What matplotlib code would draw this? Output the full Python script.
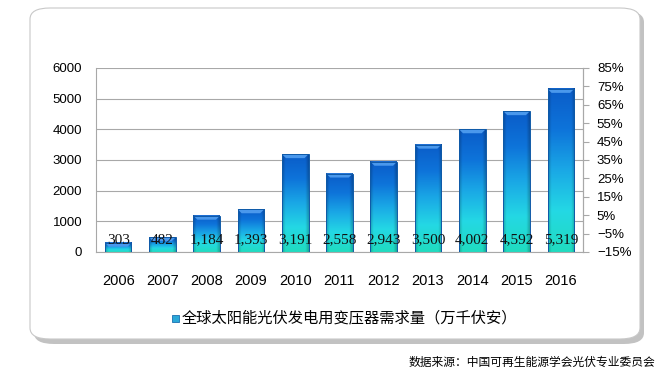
import numpy as np
import matplotlib.pyplot as plt
from matplotlib.colors import LinearSegmentedColormap
from matplotlib.patches import FancyBboxPatch, Rectangle, Polygon

years = ["2006", "2007", "2008", "2009", "2010", "2011",
         "2012", "2013", "2014", "2015", "2016"]
demand = [303, 482, 1184, 1393, 3191, 2558, 2943, 3500, 4002, 4592, 5319]
left_ticks = [0, 1000, 2000, 3000, 4000, 5000, 6000]
right_ticks = [-15, -5, 5, 15, 25, 35, 45, 55, 65, 75, 85]
legend_label = "全球太阳能光伏发电用变压器需求量（万千伏安）"
source_note = "数据来源：中国可再生能源学会光伏专业委员会"

plt.rcParams['font.family'] = ['Liberation Sans', 'Noto Sans CJK SC', 'DejaVu Sans']

fig = plt.figure(figsize=(6.69, 3.71), dpi=100)

# rounded panel with shadow, kept behind the axes
shadow = FancyBboxPatch((34 / 669, 1 - 344 / 371), 610 / 669, 333 / 371,
                        boxstyle="round,pad=0,rounding_size=0.03",
                        transform=fig.transFigure, facecolor="#9a9a9a",
                        edgecolor="none", alpha=0.6, zorder=-3)
panel = FancyBboxPatch((30 / 669, 1 - 339 / 371), 610 / 669, 331 / 371,
                       boxstyle="round,pad=0,rounding_size=0.03",
                       transform=fig.transFigure, facecolor="white",
                       edgecolor="#c8c8c8", lw=0.8, zorder=-2)
fig.patches.extend([shadow, panel])

ax = fig.add_axes([96 / 669, 1 - 252 / 371, 487 / 669, 184 / 371])
ax.set_facecolor("none")
cmap = LinearSegmentedColormap.from_list(
    "bar", ["#20dcc0", "#24d8e4", "#1aa8e6", "#0e74da", "#0a5cc8"])

# vertical gradient with darker sides for a bevelled look
vert = cmap(np.linspace(0, 1, 200))[:, :3]
u = np.linspace(-1, 1, 40)
side = 1 - 0.22 * np.clip((np.abs(u) - 0.75) / 0.25, 0, 1)
bar_img = vert[:, None, :] * side[None, :, None]

x = np.arange(len(years))
w = 0.6
cap_h = 130
cap_in = 0.09
for xi, v in zip(x, demand):
    ax.imshow(bar_img, origin="lower", aspect="auto",
              extent=[xi - w / 2, xi + w / 2, 0, v], zorder=2)
    ax.add_patch(Polygon([(xi - w / 2, v), (xi + w / 2, v),
                          (xi + w / 2 - cap_in, v - cap_h),
                          (xi - w / 2 + cap_in, v - cap_h)],
                         closed=True, facecolor="#4a98ec",
                         edgecolor="none", zorder=3))
    ax.add_patch(Rectangle((xi - w / 2, 0), w, v, fill=False,
                           edgecolor="#0f5aa8", lw=0.7, zorder=3))
    ax.text(xi, 390, f"{v:,}", ha="center", va="center", fontsize=11,
            family="Liberation Serif", color="#111111", zorder=4)

ax.set_xlim(-0.5, len(years) - 0.5)
ax.set_ylim(0, 6000)
ax.set_xticks(x)
ax.set_xticklabels(years, fontsize=10.5)
ax.set_yticks(left_ticks)
ax.tick_params(axis="y", length=0, pad=10, labelsize=9.5)
ax.tick_params(axis="x", length=0, pad=16)
ax.grid(axis="y", color="#a8a8a8", lw=0.8, zorder=1)
ax.set_axisbelow(True)
for s in ["left", "bottom", "right"]:
    ax.spines[s].set_color("#a8a8a8")
ax.spines["top"].set_visible(False)

ax2 = ax.twinx()
ax2.set_ylim(-15, 85)
ax2.set_yticks(right_ticks)
ax2.set_yticklabels([f"{t}%".replace("-", "\u2212") for t in right_ticks])
ax2.tick_params(axis="y", length=4, color="#a8a8a8", labelsize=9.5, pad=6)
for s in ["left", "bottom", "top"]:
    ax2.spines[s].set_visible(False)
ax2.spines["right"].set_color("#a8a8a8")

# legend
fig.patches.append(Rectangle((172 / 669, 1 - 322 / 371), 7 / 669, 7 / 371,
                             transform=fig.transFigure, facecolor="#2aa8d8",
                             edgecolor="#1a6fb0", lw=0.6))
fig.text(182 / 669, 1 - 318 / 371, legend_label, fontsize=11,
         family=['Noto Sans CJK SC', 'DejaVu Sans'], va="center", ha="left")
fig.text(655 / 669, 1 - 362 / 371, source_note, fontsize=8.5,
         family=['Noto Sans CJK SC', 'DejaVu Sans'], va="center", ha="right")

fig.savefig("out.png", dpi=100)
